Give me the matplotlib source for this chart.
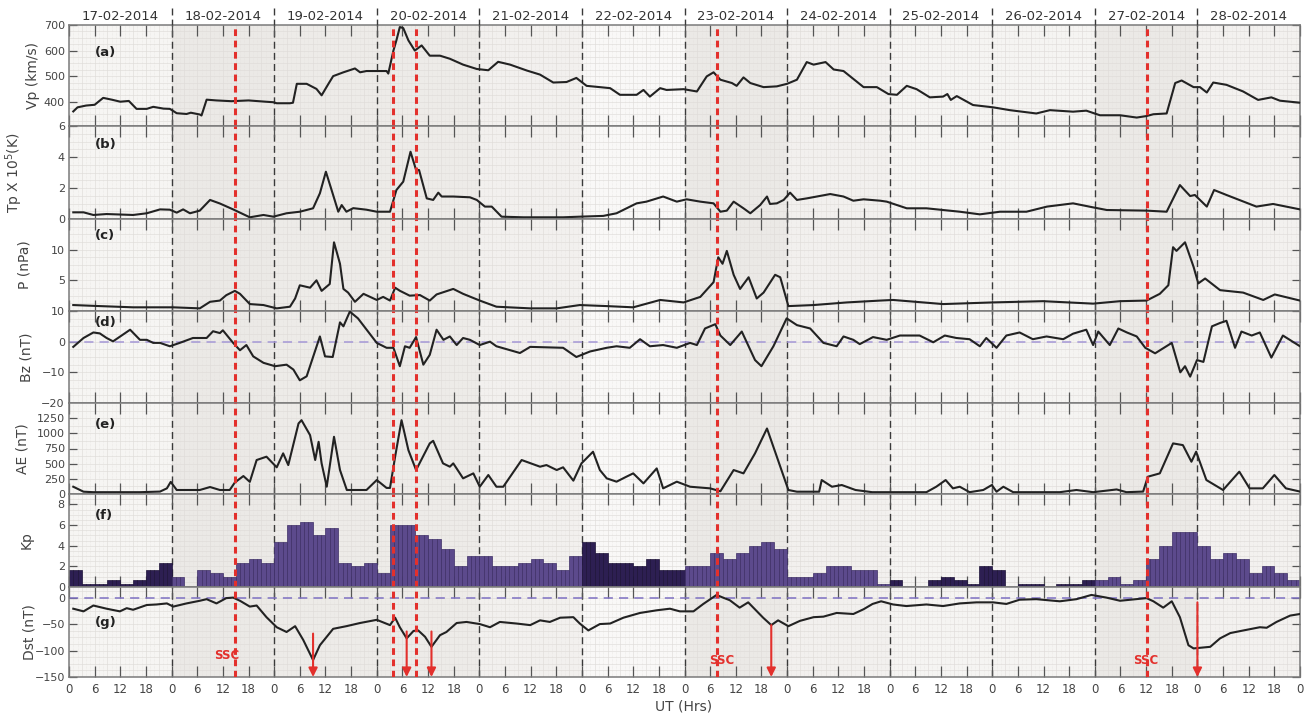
import numpy as np
import matplotlib
matplotlib.use("Agg")
import matplotlib.pyplot as plt
from matplotlib.lines import Line2D

# ---------------------------------------------------------------- data
dates = ["17-02-2014", "18-02-2014", "19-02-2014", "20-02-2014",
         "21-02-2014", "22-02-2014", "23-02-2014", "24-02-2014",
         "25-02-2014", "26-02-2014", "27-02-2014", "28-02-2014"]

# (hour since 17-02-2014 00 UT, value)
vp = [(1, 362), (2, 378), (4, 385), (6, 388), (8, 415), (10, 408), (12, 400),
      (14, 403), (15.8, 372), (18.2, 372), (19.7, 380), (22.1, 373), (23.6, 372),
      (25.2, 355), (27.5, 352), (28.5, 357), (30.6, 350), (31.0, 346), (32.2, 408),
      (34.5, 405), (38, 402), (42, 405), (46, 400), (47.8, 398), (48.6, 394),
      (51.7, 394), (52.4, 396), (53.3, 470), (55.6, 470), (57.9, 450), (59.1, 425),
      (60.7, 470), (61.8, 500), (64.2, 515), (66.9, 530), (68.1, 515), (69.6, 520),
      (74.3, 520), (74.7, 510), (75.9, 600), (76.6, 640), (77.4, 692), (78.2, 688),
      (79.4, 640), (80.9, 600), (82.5, 620), (84.4, 580), (86.8, 580), (89.1, 568),
      (92.2, 545), (95.4, 528), (98.1, 523), (100.4, 556), (103.2, 545), (107.1, 522),
      (110.2, 506), (113.3, 475), (116.4, 477), (118.7, 493), (121.1, 462),
      (124.2, 457), (126.6, 453), (128.9, 427), (132.8, 427), (134.4, 446),
      (135.9, 420), (138.3, 453), (139.8, 446), (143.8, 449), (146.9, 440),
      (149.2, 499), (150.8, 515), (152.4, 486), (155.1, 473), (156.2, 462),
      (157.8, 495), (159.4, 473), (162.5, 457), (165.6, 460), (168.0, 470),
      (170.3, 486), (172.6, 555), (174.2, 545), (177.0, 555), (178.9, 526),
      (181.2, 520), (185.9, 457), (189.0, 457), (191.7, 430), (193.7, 427),
      (196.0, 462), (198.3, 449), (201.4, 417), (204.5, 420), (205.5, 430),
      (206.3, 407), (207.7, 422), (211.5, 387), (216.2, 378), (220.1, 367),
      (226.3, 354), (229.5, 367), (234.9, 361), (238.0, 365), (241.2, 347),
      (245.9, 347), (249.8, 338), (252.1, 344), (253.7, 351), (256.8, 354),
      (258.8, 473), (260.3, 483), (263.1, 457), (264.6, 457), (266.2, 436),
      (267.7, 475), (270.8, 466), (274.7, 440), (278.2, 407), (281.3, 417),
      (283.3, 404), (288, 396)]

tp = [(1, 0.43), (3.4, 0.43), (5.7, 0.26), (8.8, 0.32), (15, 0.26), (18.2, 0.37),
      (21.3, 0.62), (23.6, 0.6), (25.2, 0.41), (26.7, 0.62), (28.3, 0.37),
      (30.6, 0.54), (33.0, 1.23), (35.3, 1.0), (38.4, 0.62), (42.3, 0.11),
      (45.5, 0.26), (47.8, 0.15), (50.9, 0.37), (54.0, 0.47), (57.1, 0.69),
      (58.7, 1.66), (60.1, 3.05), (61.4, 1.9), (63.0, 0.47), (63.8, 0.9),
      (64.9, 0.47), (66.5, 0.7), (69.6, 0.6), (72.0, 0.47), (75.1, 0.47),
      (76.6, 1.87), (78.2, 2.41), (79.9, 4.34), (81.2, 3.16), (81.9, 3.16),
      (83.7, 1.33), (85.2, 1.23), (86.4, 1.7), (87.2, 1.45), (89.9, 1.45),
      (93.8, 1.4), (95.4, 1.23), (97.3, 0.8), (98.9, 0.8), (101.2, 0.15),
      (106.3, 0.11), (115.6, 0.11), (119.5, 0.15), (125.0, 0.2), (128.1, 0.37),
      (132.8, 1.01), (135.1, 1.12), (139.0, 1.45), (142.2, 1.12), (144.5, 1.27),
      (147.7, 1.12), (150.8, 1.01), (152.4, 0.47), (153.9, 0.54), (155.5, 1.12),
      (157.8, 0.69), (159.4, 0.37), (161.7, 0.9), (163.3, 1.45), (164.0, 0.97),
      (165.6, 1.01), (167.2, 1.23), (168.7, 1.7), (170.3, 1.23), (172.6, 1.33),
      (178.1, 1.61), (181.2, 1.45), (183.5, 1.18), (185.9, 1.27), (189.8, 1.18),
      (191.3, 1.12), (196.0, 0.69), (200.6, 0.69), (204.5, 0.58), (208.4, 0.47),
      (213.1, 0.3), (217.8, 0.47), (224.0, 0.47), (228.8, 0.8), (234.9, 1.01),
      (239.6, 0.75), (242.8, 0.58), (252.1, 0.54), (256.8, 0.47), (259.9, 2.19),
      (262.3, 1.48), (263.4, 1.55), (266.2, 0.8), (267.9, 1.87), (270.8, 1.55),
      (277.8, 0.8), (281.7, 0.97), (288, 0.62)]

pdyn = [(1, 0.97), (7.2, 0.8), (15, 0.6), (24.4, 0.6), (30.6, 0.43), (33, 1.5),
        (35.3, 1.7), (36.8, 2.58), (38.8, 3.28), (40, 2.8), (42.3, 1.13),
        (45.5, 0.97), (48.6, 0.43), (51.7, 0.7), (52.9, 2.04), (54, 4.19),
        (56.4, 3.8), (57.9, 5.0), (59.1, 3.28), (61.0, 4.4), (62.0, 11.2),
        (63.4, 7.7), (64.2, 3.6), (65.3, 3.0), (66.9, 1.5), (68.9, 2.8), (72, 1.8),
        (73.5, 2.3), (75.1, 1.7), (76.3, 3.8), (77.4, 3.3), (79.7, 2.5),
        (82.1, 2.6), (84.4, 1.7), (86, 2.7), (89.9, 3.6), (92.2, 2.8), (96.1, 1.7),
        (100, 0.7), (107.9, 0.43), (114.1, 0.43), (119.5, 0.97), (125.8, 0.8),
        (132, 0.6), (138.3, 1.8), (143.8, 1.4), (147.7, 2.3), (150.8, 4.7),
        (151.9, 8.76), (152.9, 7.7), (153.9, 9.8), (155.5, 5.9), (157, 3.6),
        (159, 5.5), (160.9, 2.04), (162.5, 3.0), (165.2, 5.9), (166.4, 5.5),
        (168.3, 0.8), (174.2, 0.97), (182, 1.4), (189.8, 1.7), (192.8, 1.8),
        (204.5, 1.13), (216.2, 1.4), (227.9, 1.6), (239.6, 1.2), (245.9, 1.6),
        (252.1, 1.7), (255.2, 2.8), (257.2, 4.2), (258.3, 10.4), (259.1, 9.8),
        (261.1, 11.2), (263.1, 7.2), (264.2, 4.5), (265.8, 5.3), (269.3, 3.4),
        (274.7, 3.0), (279.4, 1.8), (282.1, 2.7), (288, 1.7)]

bz = [(1, -1.7), (3.4, 1.2), (5.7, 3.0), (7.2, 2.7), (8.8, 1.2), (10.3, 0.1),
      (14.3, 3.9), (16.6, 0.6), (18.2, 0.6), (19.7, -0.4), (21.3, -0.4),
      (23.6, -1.5), (25.9, -0.4), (29, 1.2), (32.2, 1.2), (33.7, 3.4), (35.3, 2.8),
      (36, 3.7), (38.4, -0.4), (40, -2.8), (41.5, -1.1), (43.1, -4.8), (45.5, -6.9),
      (48.2, -8.0), (50.9, -7.5), (52.5, -9.1), (54, -12.6), (55.6, -11.3),
      (58.7, 1.7), (59.9, -4.8), (61.7, -5.0), (63.4, 6.3), (64.2, 5.0),
      (65.7, 9.8), (67.6, 7.6), (72, -0.4), (74.3, -2.0), (75.9, -2.0),
      (77.4, -8.0), (78.6, -1.5), (79.7, -2.0), (81.2, 1.5), (82.9, -7.5),
      (84.4, -4.3), (86, 3.9), (87.6, 0.6), (89.1, 1.7), (90.7, -1.1), (92.2, 1.2),
      (93.8, 0.6), (96.1, -1.1), (98.5, 0), (100, -1.5), (105.5, -3.7),
      (107.9, -1.7), (115.6, -2.0), (118.7, -5.0), (121.9, -3.2), (125.8, -2.0),
      (128.1, -1.5), (131.2, -2.0), (133.6, 0.8), (135.9, -1.5), (139, -1.1),
      (142.2, -2.0), (145.3, -0.4), (146.9, -1.1), (148.8, 4.3), (151.2, 5.7),
      (152.4, 2.0), (154.7, -1.1), (157.4, 3.3), (160.5, -6.0), (162, -8.0),
      (164.8, -1.5), (167.9, 7.6), (170.3, 5.4), (173.4, 4.3), (176.5, -0.4),
      (179.6, -1.5), (181.2, 1.7), (183.5, 0.6), (185, -0.8), (188.1, 1.5),
      (191.3, 0.6), (194.4, 2.0), (199, 2.0), (202.2, -0.2), (204.9, 2.0),
      (207.6, 1.2), (210.7, 0.8), (213.1, -1.5), (214.6, 1.2), (217, -2.0),
      (219.3, 2.0), (222.4, 3.0), (225.5, 0.8), (228.7, 1.7), (232.6, 0.8),
      (234.9, 2.6), (238, 3.9), (239.6, -1.1), (240.8, 3.3), (243.5, -1.1),
      (245.5, 4.3), (247.5, 3.0), (249.8, 1.7), (251.8, -2.0), (254.1, -3.8),
      (258, -0.4), (260, -10.0), (261.1, -8.0), (262.3, -11.4), (263.9, -6.0),
      (265.4, -6.6), (267.4, 5.0), (269.3, 6.1), (270.8, 6.8), (272.8, -2.0),
      (274.3, 3.3), (276.7, 2.0), (278.6, 3.0), (281.3, -5.2), (284, 2.0),
      (288, -1.5)]

ae = [(1, 120), (3.4, 38), (5.7, 30), (11.1, 30), (16.6, 30), (21.3, 40),
      (22.9, 93), (23.8, 200), (25.2, 66), (30.6, 66), (33, 115), (35.3, 66),
      (37.6, 66), (38.8, 190), (40.8, 296), (42.3, 200), (43.9, 560), (46.2, 615),
      (48.6, 440), (50.1, 670), (51.3, 477), (53.7, 1163), (54.4, 1217),
      (56.4, 970), (57.6, 560), (58.4, 860), (59.1, 505), (60.3, 120), (62, 943),
      (63.4, 395), (65, 66), (69.6, 66), (72, 230), (74.3, 100), (75.1, 100),
      (76.3, 615), (77.8, 1217), (79.4, 724), (81.2, 395), (84.4, 834),
      (85.2, 877), (87.5, 505), (89.1, 450), (89.9, 505), (92.2, 258), (94.6, 340),
      (96.1, 120), (98.1, 313), (100, 120), (101.6, 120), (105.9, 560),
      (110.2, 450), (111.7, 477), (114.1, 395), (115.6, 440), (118, 220),
      (119.9, 505), (122.6, 697), (124.2, 395), (125.8, 258), (128.1, 203),
      (130.4, 285), (132, 340), (134.4, 175), (137.5, 422), (139, 93),
      (142.2, 203), (145.3, 120), (150, 93), (152.4, 45), (155.5, 395),
      (157.8, 340), (160.5, 670), (163.3, 1080), (165.6, 615), (168.3, 66),
      (170.3, 38), (175.5, 38), (176.1, 230), (178.5, 120), (180.8, 148),
      (184, 66), (187.9, 30), (192.8, 30), (200.6, 30), (202.9, 120), (205.1, 230),
      (206.8, 93), (208.4, 120), (210.7, 30), (213.9, 66), (215.9, 148), (217, 38),
      (218.6, 120), (220.9, 30), (231.8, 30), (235.7, 66), (239.6, 30),
      (245.1, 75), (247.4, 30), (251.3, 40), (252.4, 285), (255.2, 340),
      (258.3, 834), (260.6, 806), (262.6, 532), (263.7, 697), (266.1, 230),
      (270, 66), (273.8, 368), (276.2, 93), (279.3, 93), (282, 313), (284.7, 93),
      (288, 40)]

dst = [(1, -21), (3.4, -26), (5.7, -15), (8.8, -21), (11.9, -26), (13.5, -20),
       (15, -23), (18.2, -14), (20.5, -13), (22.9, -11), (24.4, -17), (27.5, -11),
       (30.6, -6), (32.2, -3), (34.5, -11), (36.8, -1), (38.4, 0), (40, -6),
       (42.3, -17), (43.9, -15), (46.2, -37), (48.6, -56), (50.9, -65),
       (52.9, -54), (54.8, -80), (57.1, -118), (58.7, -90), (61.8, -59),
       (64.9, -54), (68.1, -48), (72, -42), (75.1, -52), (76.3, -38), (77.4, -56),
       (79, -77), (80.6, -63), (81.7, -62), (83.3, -74), (84.8, -93), (86.8, -71),
       (88.3, -65), (90.7, -48), (93, -46), (96.1, -50), (98.5, -56), (100.8, -46),
       (104.7, -49), (107.9, -52), (110.2, -43), (112.5, -46), (114.9, -38),
       (118, -37), (119.5, -49), (121.5, -62), (124.2, -50), (126.6, -49),
       (129.7, -38), (133.6, -29), (137.5, -24), (140.6, -21), (142.9, -26),
       (146.1, -26), (148.4, -12), (151.5, 5), (153, 0), (154.6, -5), (156.9, -19),
       (158.9, -9), (162.4, -38), (164.3, -52), (165.9, -43), (168.3, -54),
       (171, -44), (174.2, -37), (176.5, -36), (179.6, -29), (183.5, -31),
       (185.9, -22), (188, -12), (190, -7), (192.8, -13), (195.9, -16),
       (200.6, -13), (204.5, -16), (208.4, -11), (212.3, -9), (216.2, -9),
       (219.3, -12), (222.4, -4), (226.3, -3), (231.8, -7), (235.7, -3),
       (239.2, 5), (242.7, 0), (245.9, -6), (252.1, -1), (253.7, -7), (256, -19),
       (258, -7), (259.9, -37), (261.9, -90), (263.1, -96), (267, -93),
       (269.3, -77), (271.7, -67), (274.8, -62), (278.6, -56), (280.2, -57),
       (282.5, -46), (285.7, -34), (288, -31)]

# three-hourly Kp, one row per day
kp = [[1.67, 0.33, 0.33, 0.67, 0.33, 0.67, 1.67, 2.33],
      [1.0, 0.0, 1.67, 1.33, 1.0, 2.33, 2.67, 2.33],
      [4.33, 6.0, 6.33, 5.0, 5.67, 2.33, 2.0, 2.33],
      [1.33, 6.0, 6.0, 5.0, 4.67, 3.67, 2.0, 3.0],
      [3.0, 2.0, 2.0, 2.33, 2.67, 2.33, 1.67, 3.0],
      [4.33, 3.33, 2.33, 2.33, 2.0, 2.67, 1.67, 1.67],
      [2.0, 2.0, 3.33, 2.67, 3.33, 4.0, 4.33, 3.67],
      [1.0, 1.0, 1.33, 2.0, 2.0, 1.67, 1.67, 0.33],
      [0.67, 0.0, 0.0, 0.67, 1.0, 0.67, 0.33, 2.0],
      [1.67, 0.0, 0.33, 0.33, 0.0, 0.33, 0.33, 0.67],
      [0.67, 1.0, 0.33, 0.67, 2.67, 4.0, 5.33, 5.33],
      [4.0, 2.67, 3.33, 2.67, 1.33, 2.0, 1.33, 0.67]]
quiet_days = [0, 5, 8, 9]

ssc_hours = [38.8, 151.7, 252.3]          # sudden commencements
event_hours = [75.8, 81.2]                # other shock / discontinuity times
dst_min_hours = [57.1, 79.0, 84.8, 164.3, 264.0]
dst_arrow_from = [-68, -64, -64, -52, -9]

# ---------------------------------------------------------------- style
W, H = 1314, 715
LEFT, RIGHT = 69, 1300
EDGES = [25, 126, 219, 311, 403, 494, 587, 677]
RED = "#e3302c"
LINE = "#222222"
TXT = "#444444"
plt.rcParams["font.family"] = ["DejaVu Sans"]

day_bg = ["#f6f5f3", "#ebe9e6", "#edebe8", "#edebe8", "#f2f0ee", "#f9f8f7",
          "#ebe9e6", "#f2f0ee", "#f5f4f2", "#f5f4f2", "#ebe9e6", "#f3f1ef"]

panels = [
    dict(label="Vp (km/s)", ylim=(305, 700), ticks=[400, 500, 600, 700], minor=25,
         tag="(a)", tag_y=0.73, lab_x=33, data=vp),
    dict(label="Tp X 10$^5$(K)", ylim=(0, 6), ticks=[0, 2, 4, 6], minor=0.5,
         tag="(b)", tag_y=0.80, lab_x=14, data=tp),
    dict(label="P (nPa)", ylim=(0, 15), ticks=[5, 10], minor=1.25,
         tag="(c)", tag_y=0.82, lab_x=24, data=pdyn),
    dict(label="Bz (nT)", ylim=(-20, 10), ticks=[-20, -10, 0, 10], minor=2.5,
         tag="(d)", tag_y=0.87, lab_x=26, data=bz),
    dict(label="AE (nT)", ylim=(0, 1500), ticks=[0, 250, 500, 750, 1000, 1250],
         minor=125, tag="(e)", tag_y=0.76, lab_x=22, data=ae),
    dict(label="Kp", ylim=(0, 9), ticks=[0, 2, 4, 6, 8], minor=0.5,
         tag="(f)", tag_y=0.77, lab_x=27, data=None),
    dict(label="Dst (nT)", ylim=(-150, 20), ticks=[-150, -100, -50, 0], minor=12.5,
         tag="(g)", tag_y=0.61, lab_x=29, data=dst),
]

fig = plt.figure(figsize=(W / 100, H / 100), dpi=100)
fig.patch.set_facecolor("white")

axes = []
for i, p in enumerate(panels):
    top, bot = EDGES[i], EDGES[i + 1]
    ax = fig.add_axes([LEFT / W, 1 - bot / H, (RIGHT - LEFT) / W, (bot - top) / H])
    axes.append(ax)
    ax.set_xlim(0, 288)
    ax.set_ylim(*p["ylim"])
    ax.set_facecolor("#f5f4f2")

    # day shading and background grid
    for d in range(12):
        ax.axvspan(d * 24, d * 24 + 24, color=day_bg[d], lw=0, zorder=0)
    ylo, yhi = p["ylim"]
    for h in np.arange(1, 288, 1):
        if h % 3:
            ax.axvline(h, color="#e2dfdc", lw=0.4, ls=(0, (1, 1.5)), zorder=0.5)
    for h in np.arange(3, 288, 3):
        ax.axvline(h, color="#dfdcd9", lw=0.45, zorder=0.6)
    for y in np.arange(np.ceil(ylo / p["minor"]) * p["minor"], yhi, p["minor"]):
        ax.axhline(y, color="#dfdcd9", lw=0.45, zorder=0.6)

    # day boundaries
    for d in range(1, 12):
        ax.axvline(d * 24, color="#3a3a3a", lw=1.0, ls=(0, (5, 3)), zorder=1.5)

    # ticks
    ax.set_xticks(np.arange(0, 289, 6))
    ax.set_yticks(p["ticks"])
    ax.tick_params(axis="x", which="major", direction="in", length=8, width=0.9,
                   color="#555555", top=True, bottom=True, labelbottom=False)
    ax.tick_params(axis="y", which="major", direction="in", length=6, width=0.9,
                   color="#555555", left=True, right=True, labelsize=8,
                   labelcolor=TXT, pad=3)
    for s in ax.spines.values():
        s.set_color("#7a7a7a")
        s.set_linewidth(1.1)

    ax.set_ylabel(p["label"], fontsize=10, color=TXT, va="center")
    ax.yaxis.set_label_coords((p["lab_x"] - LEFT) / (RIGHT - LEFT), 0.5)
    ax.text(0.021, p["tag_y"], p["tag"], transform=ax.transAxes, fontsize=9.5,
            fontweight="bold", color="#222222", va="center", ha="left", zorder=6)

    if p["data"] is not None:
        hrs, vals = zip(*p["data"])
        ax.plot(hrs, vals, color=LINE, lw=1.5, zorder=3, solid_joinstyle="round")

    for h in ssc_hours + event_hours:
        ax.axvline(h, color=RED, lw=2.2, ls=(0, (2.2, 1.5)), zorder=4)

# Bz and Dst zero references
axes[3].axhline(0, color="#a497d6", lw=1.1, ls=(0, (6, 4)), zorder=2)
axes[6].axhline(0, color="#7d70c2", lw=1.1, ls=(0, (6, 4)), zorder=2)

# Kp bars, drawn hour by hour so each 3-h block shows fine stripes
kp_ax = axes[5]
kp_vals = np.repeat(np.array(kp).ravel(), 3)
kp_hours = np.arange(288) + 0.5
for d in range(12):
    sl = slice(d * 24, d * 24 + 24)
    face = "#2d1f52" if d in quiet_days else "#5c4a8c"
    edge = "#1d1338" if d in quiet_days else "#3e2f66"
    kp_ax.bar(kp_hours[sl], kp_vals[sl], width=1.0, color=face, edgecolor=edge,
              linewidth=0.5, zorder=2.5)

# Dst minima arrows and SSC marks
dst_ax = axes[6]
for h, y0 in zip(dst_min_hours, dst_arrow_from):
    dst_ax.annotate("", xy=(h, -150), xytext=(h, y0),
                    arrowprops=dict(arrowstyle="-|>", color=RED, lw=1.5,
                                    mutation_scale=13, shrinkA=0, shrinkB=0),
                    zorder=5, annotation_clip=False)
for h, dy, yv in zip(ssc_hours, [-1.8, 1.0, -0.3], [-109, -119, -118]):
    dst_ax.text(h + dy, yv, "SSC", color=RED, fontsize=8.5, fontweight="bold",
                ha="center", va="center", zorder=6)

# bottom axis labels
dst_ax.tick_params(axis="x", labelbottom=True, labelsize=8.5, labelcolor=TXT, pad=4)
dst_ax.set_xticklabels([str(h % 24) for h in range(0, 289, 6)])
fig.text(684 / W, 1 - 706 / H, "UT (Hrs)", ha="center", va="center",
         fontsize=10, color=TXT)

# date headers and day separators above the top panel
for d, lab in enumerate(dates):
    xc = LEFT + (d + 0.5) * (RIGHT - LEFT) / 12
    fig.text(xc / W, 1 - 17 / H, lab, ha="center", va="center", fontsize=9.5,
             color="#333333")
for d in range(1, 12):
    xp = (LEFT + d * (RIGHT - LEFT) / 12) / W
    fig.add_artist(Line2D([xp, xp], [1 - 8 / H, 1 - EDGES[0] / H], color="#3a3a3a",
                          lw=1.0, ls=(0, (5, 3))))

fig.savefig("out.png", dpi=100)
